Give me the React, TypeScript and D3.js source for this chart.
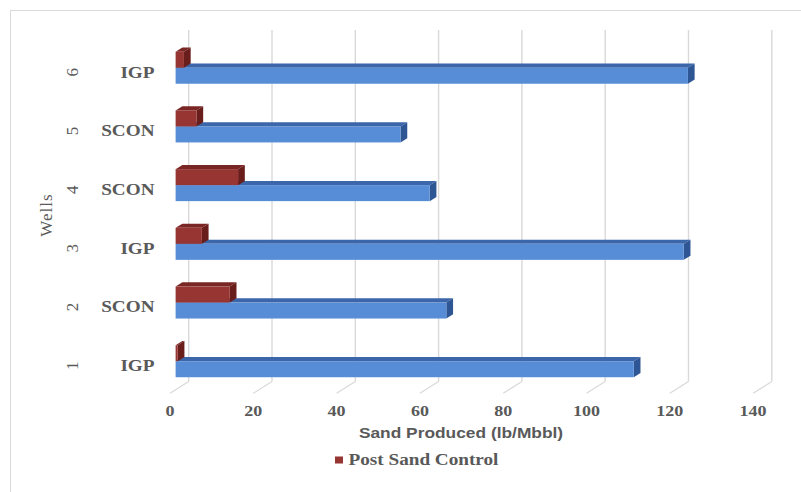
import React from "react";
import * as d3 from "d3";

const wells = ["1", "2", "3", "4", "5", "6"];
const wellTypes = ["IGP", "SCON", "IGP", "SCON", "SCON", "IGP"];
const preSandControl = [110, 65, 122, 61, 54, 123];
const postSandControl = [0.5, 13, 6.3, 15, 5, 2];
const xTicks = [0, 20, 40, 60, 80, 100, 120, 140];
const legendLabel = "Post Sand Control";
const xTitle = "Sand Produced (lb/Mbbl)";
const yTitle = "Wells";

const W = 801;
const H = 492;
const DX = 18.7; // full depth offset x
const DY = 11.7; // full depth offset y
const D0 = 0.3; // bar front depth
const D1 = 0.66; // bar back depth
const FLOOR_Y = 393.3;
const WALL_TOP = 30;
const BAR_H = 16;
const SX = 1.2;
const GREY = "#595959";
const SERIF = "'Liberation Serif', 'DejaVu Serif', serif";
const SANS = "'Liberation Sans', Arial, sans-serif";

const blue = { front: "#568dd6", top: "#3b66aa", side: "#2f5694" };
const red = { front: "#973533", top: "#7a2624", side: "#6a1e1c" };

export default function App() {
  const xs = d3.scaleLinear().domain([0, 140]).range([170, 753.1]);
  const ys = d3
    .scaleBand<string>()
    .domain([...wells].reverse())
    .range([FLOOR_Y - D0 * DY - 6 * 58.7 + 0.8, FLOOR_Y - D0 * DY + 0.8])
    .padding(0);

  const px = (v: number, d: number) => xs(v) + d * DX;
  const py = (y: number, d: number) => y - d * DY;

  const bar = (v: number, yTop: number, c: typeof blue, key: string) => {
    const x0 = px(0, D0);
    const x1 = px(v, D0);
    const y0 = yTop;
    const y1 = yTop + BAR_H;
    const dd = D1 - D0;
    const ddx = dd * DX;
    const ddy = dd * DY;
    const top = d3.line()([
      [x0, y0],
      [x1, y0],
      [x1 + ddx, y0 - ddy],
      [x0 + ddx, y0 - ddy],
    ]) + "Z";
    const side = d3.line()([
      [x1, y0],
      [x1 + ddx, y0 - ddy],
      [x1 + ddx, y1 - ddy],
      [x1, y1],
    ]) + "Z";
    return (
      <g key={key}>
        <path d={top} fill={c.top} />
        <path d={side} fill={c.side} />
        <rect x={x0} y={y0} width={Math.max(0, x1 - x0)} height={BAR_H} fill={c.front} />
      </g>
    );
  };

  const floorBackY = py(FLOOR_Y, 1);

  return (
    <svg
      width={W}
      height={H}
      style={{ position: "absolute", left: 0, top: 0, background: "#fff" }}
    >
      <rect x={0} y={0} width={W} height={H} fill="#fff" />
      {/* chart border (top and left visible) */}
      <line x1={10} y1={10.5} x2={W} y2={10.5} stroke="#d9d9d9" strokeWidth={1} />
      <line x1={10.5} y1={10} x2={10.5} y2={H} stroke="#d9d9d9" strokeWidth={1} />

      {/* back wall gridlines and floor lines */}
      {xTicks.map((t) => (
        <g key={"g" + t}>
          <line
            x1={px(t, 1)}
            x2={px(t, 1)}
            y1={WALL_TOP}
            y2={floorBackY}
            stroke="#d9d9d9"
            strokeWidth={1.4}
          />
          <line
            x1={px(t, 0)}
            y1={FLOOR_Y}
            x2={px(t, 1)}
            y2={floorBackY}
            stroke="#d9d9d9"
            strokeWidth={1.2}
          />
        </g>
      ))}

      {/* bars */}
      {wells.map((w, i) => {
        const c = (ys(w) as number) + ys.bandwidth() / 2;
        return (
          <g key={"b" + w}>
            {bar(preSandControl[i], c, blue, "pre" + w)}
            {bar(postSandControl[i], c - BAR_H, red, "post" + w)}
          </g>
        );
      })}

      {/* x tick labels */}
      {xTicks.map((t) => (
        <text
          key={"t" + t}
          transform={`translate(${xs(t)},415.5) scale(${SX},1)`}
          textAnchor="middle"
          fontFamily={SERIF}
          fontWeight="bold"
          fontSize={15}
          fill={GREY}
        >
          {t}
        </text>
      ))}

      {/* category labels */}
      {wells.map((w, i) => {
        const c = (ys(w) as number) + ys.bandwidth() / 2;
        return (
          <g key={"l" + w}>
            <text
              transform={`translate(154.5,${c + 9.8}) scale(${SX},1)`}
              textAnchor="end"
              fontFamily={SERIF}
              fontWeight="bold"
              fontSize={16}
              fill={GREY}
            >
              {wellTypes[i]}
            </text>
            <text
              transform={`translate(78,${c + 4.5}) rotate(-90)`}
              textAnchor="middle"
              fontFamily={SERIF}
              fontSize={17}
              fill={GREY}
            >
              {w}
            </text>
          </g>
        );
      })}

      {/* y title */}
      <text
        transform={`translate(52,215) rotate(-90)`}
        textAnchor="middle"
        fontFamily={SERIF}
        fontSize={17}
        letterSpacing={1}
        fill={GREY}
      >
        {yTitle}
      </text>

      {/* x title */}
      <text
        transform={`translate(461,437.5) scale(1.24,1)`}
        textAnchor="middle"
        fontFamily={SANS}
        fontWeight="bold"
        fontSize={14}
        fill={GREY}
      >
        {xTitle}
      </text>

      {/* legend */}
      <rect x={335} y={456.5} width={8} height={7} fill={red.front} />
      <text
        transform={`translate(348.5,464.8) scale(${SX},1)`}
        fontFamily={SERIF}
        fontWeight="bold"
        fontSize={16}
        fill={GREY}
      >
        {legendLabel}
      </text>
    </svg>
  );
}
